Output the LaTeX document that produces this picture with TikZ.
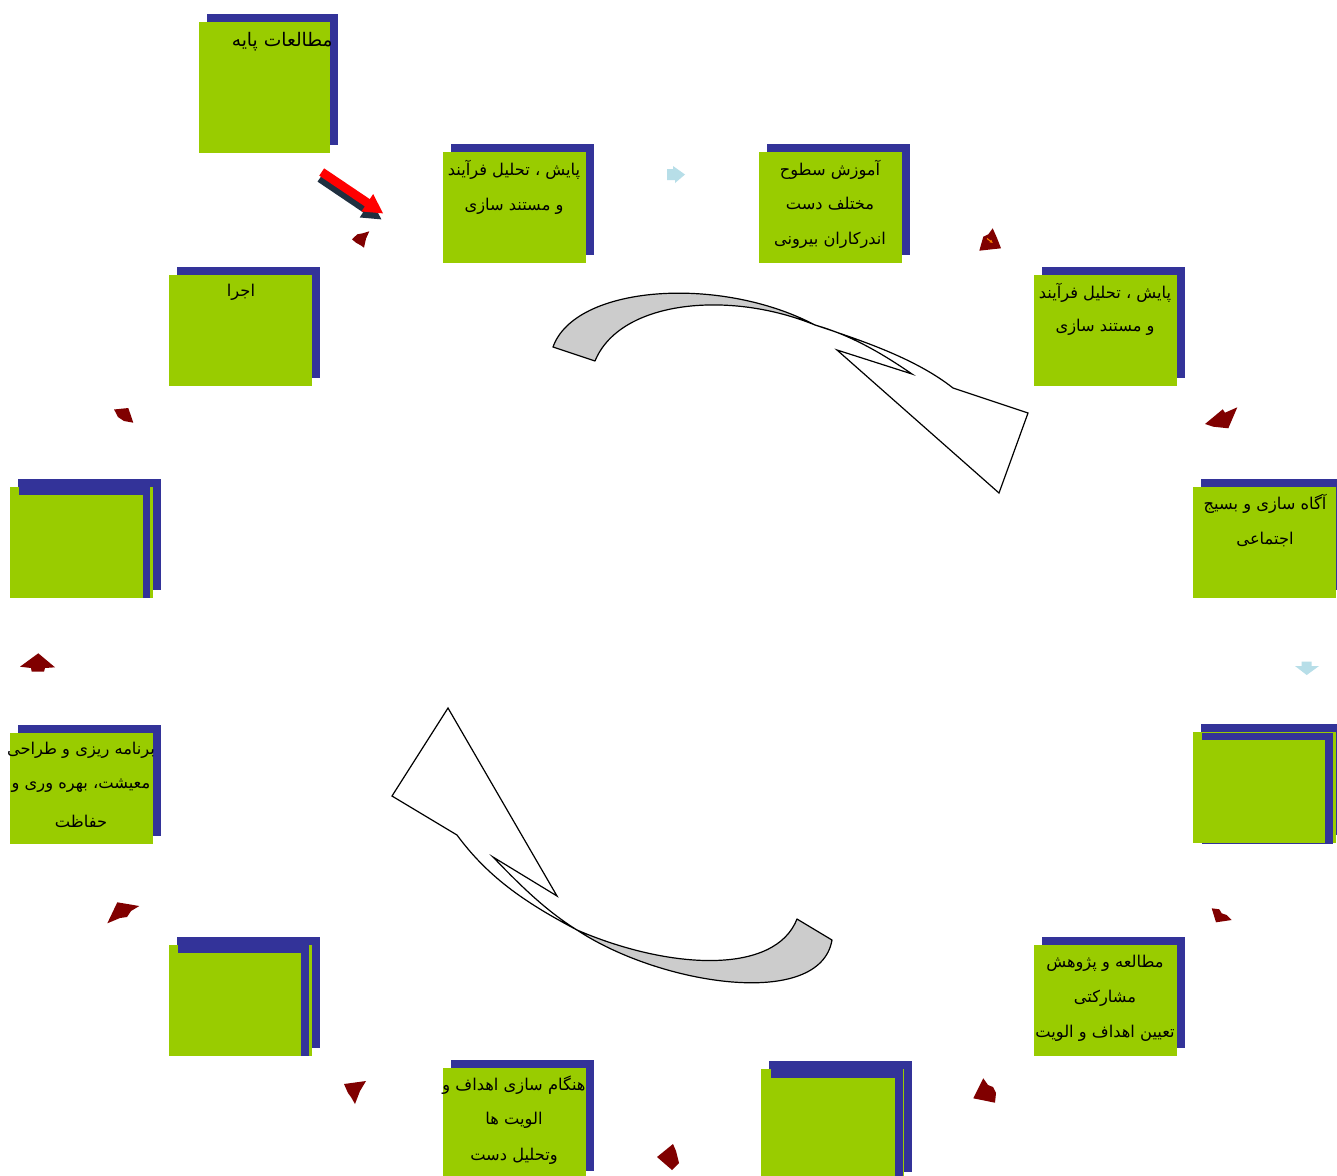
\documentclass[tikz,border=0pt]{standalone}
\usepackage{fontspec}
\usetikzlibrary{arrows.meta}
\TeXXeTstate=1
\newfontfamily\arabicfont[Script=Arabic]{DejaVu Sans}
\definecolor{boxgreen}{HTML}{99CC00}
\definecolor{boxblue}{HTML}{333399}
\definecolor{darkred}{HTML}{800000}
\definecolor{lightblue}{HTML}{B7DEE8}
\definecolor{bandgray}{HTML}{CCCCCC}
\definecolor{shadowc}{HTML}{1F3040}
\begin{document}
\begin{tikzpicture}[x=0.75pt,y=-0.75pt,
  gfill/.style={fill=boxgreen},
  bfill/.style={fill=boxblue},
  smallarrow/.style={fill=darkred},
  palearrow/.style={fill=lightblue},
  band/.style={draw=black,fill=bandgray,line width=0.9pt,line join=round},
  head/.style={draw=black,fill=white,line width=0.9pt,line join=miter},
  lbl/.style={font=\arabicfont\fontsize{12.2}{14}\selectfont,inner sep=0pt,text=black},
  biglbl/.style={font=\arabicfont\fontsize{14}{16}\selectfont,inner sep=0pt,text=black}]
\clip (0,0) rectangle (1337,1175);
\fill[white] (0,0) rectangle (1337,1175);

% ---------- boxes ----------
% box 1
\fill[bfill] (207,14) rectangle (338,145);
\fill[gfill] (199,22) rectangle (330,153);
% box 2
\fill[bfill] (451,144) rectangle (594,255);
\fill[gfill] (443,152) rectangle (586,263);
% box 3
\fill[bfill] (767,144) rectangle (910,255);
\fill[gfill] (759,152) rectangle (902,263);
% box 4
\fill[bfill] (1042,267) rectangle (1185,378);
\fill[gfill] (1034,275) rectangle (1177,386);
% box 5
\fill[bfill] (1201,479) rectangle (1344,590);
\fill[gfill] (1193,487) rectangle (1336,598);
% box 6 (double)
\fill[bfill] (1201,724) rectangle (1344,835);
\fill[gfill] (1193,732) rectangle (1336,843);
\fill[bfill] (1202,733) rectangle (1333,844);
\fill[gfill] (1193,740) rectangle (1325,843);
% box 7
\fill[bfill] (1042,937) rectangle (1185,1048);
\fill[gfill] (1034,945) rectangle (1177,1056);
% box 8
\fill[bfill] (451,1060) rectangle (594,1171);
\fill[gfill] (443,1068) rectangle (586,1179);
% box 9 (double)
\fill[bfill] (769,1061) rectangle (912,1172);
\fill[gfill] (761,1069) rectangle (904,1180);
\fill[bfill] (771,1069) rectangle (903,1180);
\fill[gfill] (761,1078) rectangle (895,1180);
% box 10 (double)
\fill[bfill] (177,937) rectangle (320,1048);
\fill[gfill] (169,945) rectangle (312,1056);
\fill[bfill] (178,945) rectangle (309,1056);
\fill[gfill] (169,953) rectangle (301,1056);
% box 11 (double)
\fill[bfill] (18,479) rectangle (161,590);
\fill[gfill] (10,487) rectangle (153,598);
\fill[bfill] (19,487) rectangle (150,598);
\fill[gfill] (10,495) rectangle (143,598);
% box 12
\fill[bfill] (18,725) rectangle (161,836);
\fill[gfill] (10,733) rectangle (153,844);
% box 13
\fill[bfill] (177,267) rectangle (320,378);
\fill[gfill] (169,275) rectangle (312,386);

% ---------- texts ----------
\node[biglbl,anchor=east] (t1) at (333,42) {\beginR مطالعات پایه\endR};
\node[lbl] (t2a) at (514,170) {\beginR پایش ، تحلیل فرآیند\endR};
\node[lbl] (t2b) at (514,206) {\beginR و مستند سازی\endR};
\node[lbl] (t3a) at (830,170) {\beginR آموزش سطوح\endR};
\node[lbl] (t3b) at (830,204) {\beginR مختلف دست\endR};
\node[lbl] (t3c) at (830,240) {\beginR اندرکاران بیرونی\endR};
\node[lbl] (t4a) at (1105,293) {\beginR پایش ، تحلیل فرآیند\endR};
\node[lbl] (t4b) at (1105,327) {\beginR و مستند سازی\endR};
\node[lbl] (t5a) at (1265,504) {\beginR آگاه سازی و بسیج\endR};
\node[lbl] (t5b) at (1265,540) {\beginR اجتماعی\endR};
\node[lbl] (t7a) at (1105,963) {\beginR مطالعه و پژوهش\endR};
\node[lbl] (t7b) at (1105,998) {\beginR مشارکتی\endR};
\node[lbl] (t7c) at (1105,1033) {\beginR تعیین اهداف و الویت\endR};
\node[lbl] (t8a) at (514,1085) {\beginR هنگام سازی اهداف و\endR};
\node[lbl] (t8b) at (514,1120) {\beginR الویت ها\endR};
\node[lbl] (t8c) at (514,1156) {\beginR وتحلیل دست\endR};
\node[lbl] (t12a) at (81,750) {\beginR برنامه ریزی و طراحی\endR};
\node[lbl] (t12b) at (81,786) {\beginR معیشت، بهره وری و\endR};
\node[lbl] (t12c) at (81,821) {\beginR حفاظت\endR};
\node[lbl] (t13) at (241,292) {\beginR اجرا\endR};

% ---------- big red arrow ----------
\begin{scope}[shift={(320,178)},rotate=-34]
  \fill[shadowc] (0,-4.4) -- (55,-4.4) -- (55,-10.5) -- (74,0) -- (55,10.5) -- (55,4.4) -- (0,4.4) -- cycle;
\end{scope}
\begin{scope}[shift={(321.7,172)},rotate=-34]
  \fill[red] (0,-4.4) -- (55,-4.4) -- (55,-10.5) -- (74,0) -- (55,10.5) -- (55,4.4) -- (0,4.4) -- cycle;
\end{scope}

% ---------- pale arrows ----------
\fill[palearrow] (667,169) -- (673,169) -- (673,166) -- (685,174.5) -- (675,183) -- (675,180) -- (667,180) -- cycle;
\fill[palearrow] (1295,666) -- (1301.7,666) -- (1301.7,661.7) -- (1311.7,661.7) -- (1311.7,666) -- (1319,666) -- (1306.7,675) -- cycle;

% ---------- small dark red arrows ----------
\fill[smallarrow] (352,239.3) -- (357.3,234.3) -- (362.7,233.3) -- (369.3,231.3) -- (366,238.7) -- (364,247.7) -- (360.7,245.3) -- (356,242.7) -- cycle;
\fill[smallarrow] (992.7,228.3) -- (997,238) -- (1001,248.3) -- (979.3,250.7) -- (983.3,236.7) -- (988.3,234.3) -- cycle;
\draw[orange,line width=0.8pt,-{Latex[length=2.5pt,width=2.5pt]}] (987,238.5) -- (993,243);
\fill[smallarrow] (1205,424) -- (1222.7,409.3) -- (1225,412.7) -- (1237.3,407.3) -- (1228.3,428.3) -- (1213.3,426.7) -- cycle;
\fill[smallarrow] (1211.7,908.3) -- (1219.3,909.3) -- (1221.7,913.3) -- (1226.7,915) -- (1231.7,920) -- (1216,922.3) -- cycle;
\fill[smallarrow] (983.3,1078.3) -- (988,1085) -- (993,1087) -- (996,1093) -- (995,1102.7) -- (973.3,1098.3) -- cycle;
\fill[smallarrow] (657,1157) -- (673,1144) -- (676,1151) -- (679,1163) -- (672,1170) -- cycle;
\fill[smallarrow] (344,1084) -- (366,1081) -- (360,1091) -- (355,1104) -- (351,1097) -- (348,1093) -- cycle;
\fill[smallarrow] (107.3,923.3) -- (117.3,902.3) -- (139.3,906) -- (131,911) -- (127,917) -- (120,918) -- cycle;
\fill[smallarrow] (20,666.7) -- (38.3,653.3) -- (55,667.3) -- (45,668) -- (44,671.7) -- (31.7,671.7) -- (31,668) -- cycle;
\fill[smallarrow] (114,409.5) -- (128.3,408) -- (133.3,422.7) -- (124,421) -- (118,417) -- (116,413) -- cycle;

% ---------- top curved arrow ----------
\coordinate (ta) at (553,347);
\coordinate (tb) at (595,361);
\coordinate (tx) at (815,325);
\path[band] (ta) .. controls (575,285) and (720,275) .. (tx)
  .. controls (730,290) and (620,300) .. (tb) -- cycle;
\path[head] (tx) .. controls (860,340) and (915,358) .. (953,388)
  -- (1028,413) -- (999,493) -- (837,350) -- (912,374)
  .. controls (880,352) and (850,335) .. (tx) -- cycle;

% ---------- bottom curved arrow ----------
\coordinate (bx) at (577,930);
\path[band] (bx) .. controls (660,985) and (820,1010) .. (832,940)
  -- (797,919) .. controls (775,975) and (670,970) .. (bx) -- cycle;
\path[head] (448,708) -- (557,896) -- (493,857)
  .. controls (520,885) and (545,910) .. (bx)
  .. controls (530,905) and (490,880) .. (457,835)
  -- (392,796) -- cycle;
\end{tikzpicture}
\end{document}
